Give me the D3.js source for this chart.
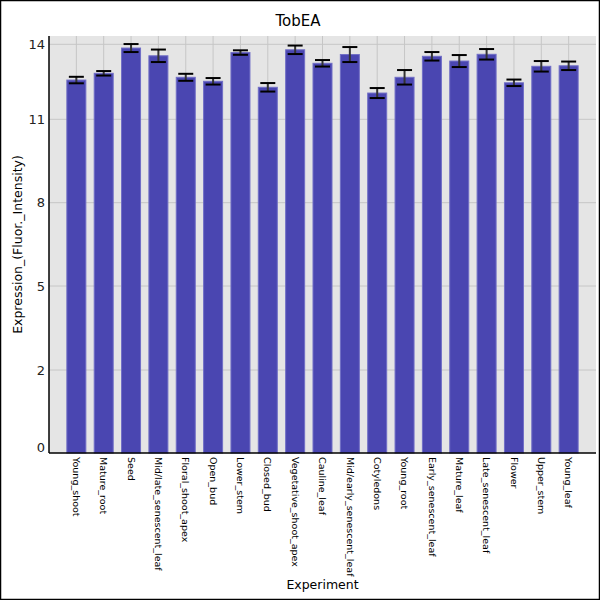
<!DOCTYPE html>
<html>
<head>
<meta charset="utf-8">
<script src="https://cdn.jsdelivr.net/npm/d3@7"></script>
<style>
  body { margin: 0; background: #fff; }
  svg { display: block; font-family: "DejaVu Sans", sans-serif; }
</style>
</head>
<body>
<svg width="600" height="600"></svg>
<script>
let categories = [
  "Young_shoot", "Mature_root", "Seed", "Mid/late_senescent_leaf",
  "Floral_shoot_apex", "Open_bud", "Lower_stem", "Closed_bud",
  "Vegetative_shoot_apex", "Cauline_leaf", "Mid/early_senescent_leaf",
  "Cotyledons", "Young_root", "Early_senescent_leaf", "Mature_leaf",
  "Late_senescent_leaf", "Flower", "Upper_stem", "Young_leaf"
];
let means = [
  12.57, 12.84, 13.85, 13.54, 12.68, 12.52, 13.67, 12.28, 13.78, 13.24,
  13.59, 12.05, 12.68, 13.52, 13.33, 13.6, 12.46, 13.12, 13.14
];
let errors = [
  0.13, 0.09, 0.16, 0.25, 0.14, 0.13, 0.09, 0.17, 0.17, 0.13,
  0.3, 0.2, 0.29, 0.17, 0.24, 0.21, 0.13, 0.21, 0.17
];
// axis ticks as printed on the chart (spacing is uneven in the original)
let tickValues = [0, 2, 5, 8, 11, 14];
let tickPixels = [447, 370, 286, 202.7, 119.3, 44.3];

let svg = d3.select("svg");
let plotLeft = 49, plotRight = 596, plotTop = 36, plotBottom = 453;

svg.append("rect")
  .attr("x", 0.5).attr("y", 0.5)
  .attr("width", 599).attr("height", 599)
  .style("fill", "#fff")
  .style("stroke", "#000")
  .style("stroke-width", 1.5);

let x = d3.scalePoint()
  .domain(categories)
  .range([plotLeft, plotRight])
  .padding(1);

// piecewise scale through the printed ticks; bars start at the plot floor
let y = d3.scaleLinear()
  .domain([-0.156].concat(tickValues))
  .range([plotBottom].concat(tickPixels));

svg.append("rect")
  .attr("x", plotLeft).attr("y", plotTop)
  .attr("width", plotRight - plotLeft).attr("height", plotBottom - plotTop)
  .style("fill", "#e5e5e5");

let grid = svg.append("g");
grid.selectAll("line.h")
  .data(tickValues.slice(1))
  .enter()
  .append("line")
  .attr("x1", plotLeft).attr("x2", plotRight)
  .attr("y1", d => y(d)).attr("y2", d => y(d))
  .style("stroke", "#c6c6c6")
  .style("stroke-width", 1);
grid.selectAll("line.v")
  .data(categories)
  .enter()
  .append("line")
  .attr("x1", d => x(d)).attr("x2", d => x(d))
  .attr("y1", plotTop).attr("y2", plotBottom)
  .style("stroke", "#c6c6c6")
  .style("stroke-width", 1);

let bw = 20;
svg.append("g")
  .selectAll("rect")
  .data(categories)
  .enter()
  .append("rect")
  .attr("x", d => x(d) - bw / 2 + 0.5)
  .attr("y", (d, i) => y(means[i]))
  .attr("width", bw - 1)
  .attr("height", (d, i) => plotBottom - y(means[i]))
  .style("fill", "#4a46b1")
  .style("stroke", "#706ec6")
  .style("stroke-width", 1);

let eb = svg.append("g")
  .selectAll("g")
  .data(categories)
  .enter()
  .append("g");
eb.append("line")
  .attr("x1", d => x(d)).attr("x2", d => x(d))
  .attr("y1", (d, i) => y(means[i] + errors[i]))
  .attr("y2", (d, i) => y(means[i] - errors[i]))
  .style("stroke", "#333")
  .style("stroke-width", 2);
eb.append("line")
  .attr("x1", d => x(d) - 7.5).attr("x2", d => x(d) + 7.5)
  .attr("y1", (d, i) => y(means[i] + errors[i]))
  .attr("y2", (d, i) => y(means[i] + errors[i]))
  .style("stroke", "#000")
  .style("stroke-width", 2);
eb.append("line")
  .attr("x1", d => x(d) - 7.5).attr("x2", d => x(d) + 7.5)
  .attr("y1", (d, i) => y(means[i] - errors[i]))
  .attr("y2", (d, i) => y(means[i] - errors[i]))
  .style("stroke", "#000")
  .style("stroke-width", 2);

// axes lines
svg.append("line")
  .attr("x1", plotLeft).attr("x2", plotLeft)
  .attr("y1", plotTop).attr("y2", plotBottom)
  .style("stroke", "#000").style("stroke-width", 1.5);
svg.append("line")
  .attr("x1", plotLeft).attr("x2", plotRight)
  .attr("y1", plotBottom).attr("y2", plotBottom)
  .style("stroke", "#000").style("stroke-width", 1.5);

svg.append("g")
  .selectAll("text")
  .data(tickValues)
  .enter()
  .append("text")
  .attr("x", 45)
  .attr("y", d => y(d))
  .attr("dy", "0.35em")
  .attr("text-anchor", "end")
  .style("font-size", "13px")
  .style("fill", "#222")
  .text(d => d);

svg.append("g")
  .selectAll("text")
  .data(categories)
  .enter()
  .append("text")
  .attr("transform", d => `translate(${x(d)},457) rotate(90)`)
  .attr("dy", "0.35em")
  .style("font-size", "9.5px")
  .style("fill", "#000")
  .text(d => d);

svg.append("text")
  .attr("x", 298).attr("y", 26)
  .attr("text-anchor", "middle")
  .style("font-size", "15px")
  .text("TobEA");

svg.append("text")
  .attr("x", (plotLeft + plotRight) / 2).attr("y", 589)
  .attr("text-anchor", "middle")
  .style("font-size", "12.5px")
  .text("Experiment");

svg.append("text")
  .attr("transform", `translate(22,${(plotTop + plotBottom) / 2}) rotate(-90)`)
  .attr("text-anchor", "middle")
  .style("font-size", "12.5px")
  .text("Expression_(Fluor._Intensity)");
</script>
</body>
</html>
